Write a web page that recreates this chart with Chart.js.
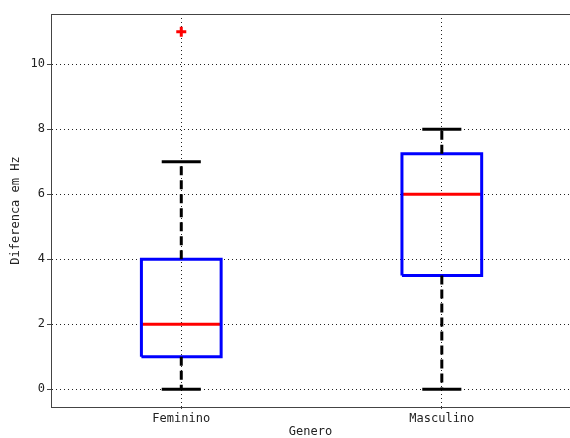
<!DOCTYPE html>
<html>
<head>
<meta charset="utf-8">
<script src="https://cdn.jsdelivr.net/npm/chart.js@4/dist/chart.umd.min.js"></script>
<style>
html,body{margin:0;padding:0;background:#fff;overflow:hidden;}
canvas{display:block;}
</style>
</head>
<body>
<canvas id="c" width="570" height="438"></canvas>
<script>
const categories = ['Feminino', 'Masculino'];
const whiskerLow = [0, 0];
const q1 = [1, 3.5];
const median = [2, 6];
const q3 = [4, 7.25];
const whiskerHigh = [7, 8];
const outliers = [[11], []];
const yTicks = [0, 2, 4, 6, 8, 10];

const BOX_HALF = 0.153;
const CAP_HALF = 0.075;
const BLUE = 'rgb(0,0,255)';
const RED = 'rgb(255,0,0)';
const BLACK = '#000';
const FONT = {family: 'DejaVu Sans Mono', size: 12};

const datasets = [];
categories.forEach((c, i) => {
  const x = i + 1;
  datasets.push({data: [{x: x, y: q1[i]}, {x: x, y: whiskerLow[i]}], borderColor: BLACK, borderWidth: 3, borderDash: [9, 5], borderCapStyle: 'butt'});
  datasets.push({data: [{x: x, y: q3[i]}, {x: x, y: whiskerHigh[i]}], borderColor: BLACK, borderWidth: 3, borderDash: [9, 5], borderCapStyle: 'butt'});
  datasets.push({data: [{x: x - CAP_HALF, y: whiskerLow[i]}, {x: x + CAP_HALF, y: whiskerLow[i]}], borderColor: BLACK, borderWidth: 3});
  datasets.push({data: [{x: x - CAP_HALF, y: whiskerHigh[i]}, {x: x + CAP_HALF, y: whiskerHigh[i]}], borderColor: BLACK, borderWidth: 3});
  datasets.push({data: [
    {x: x - BOX_HALF, y: q1[i]}, {x: x + BOX_HALF, y: q1[i]},
    {x: x + BOX_HALF, y: q3[i]}, {x: x - BOX_HALF, y: q3[i]},
    {x: x - BOX_HALF, y: q1[i]}
  ], borderColor: BLUE, borderWidth: 3, borderJoinStyle: 'miter'});
  datasets.push({data: [{x: x - BOX_HALF, y: median[i]}, {x: x + BOX_HALF, y: median[i]}], borderColor: RED, borderWidth: 3});
  if (outliers[i].length) {
    datasets.push({data: outliers[i].map(v => ({x: x, y: v})), showLine: false, pointStyle: 'cross', pointRadius: 5, borderColor: RED, borderWidth: 3, pointBorderColor: RED});
  }
});
datasets.forEach(d => {
  if (d.showLine === undefined) { d.showLine = true; d.pointRadius = 0; }
  d.fill = false;
  d.tension = 0;
});

new Chart(document.getElementById('c'), {
  type: 'scatter',
  data: {datasets: datasets},
  options: {
    responsive: false,
    maintainAspectRatio: false,
    animation: false,
    events: [],
    layout: {autoPadding: false, padding: 0},
    plugins: {legend: {display: false}, tooltip: {enabled: false}},
    scales: {
      x: {
        type: 'linear', position: 'bottom', min: 0.5, max: 2.492,
        afterBuildTicks: s => { s.ticks = categories.map((c, i) => ({value: i + 1})); },
        afterFit: s => { s.height = 31; s.paddingLeft = 0; s.paddingRight = 0; },
        ticks: {font: FONT, color: '#222', padding: 1, maxRotation: 0, autoSkip: false,
          callback: v => categories[Math.round(v) - 1] || ''},
        grid: {color: '#222', lineWidth: 1, tickLength: 4, tickColor: '#444', tickBorderDash: [1, 2]},
        border: {display: true, color: '#444', width: 1, dash: [1, 3]},
        title: {display: true, text: 'Genero', font: Object.assign({lineHeight: 1}, FONT), color: '#222', padding: {top: 0, bottom: 0}}
      },
      x2: {
        type: 'linear', position: 'top', min: 0.5, max: 2.492,
        afterBuildTicks: s => { s.ticks = []; },
        afterFit: s => { s.height = 14; s.paddingLeft = 0; s.paddingRight = 0; },
        ticks: {display: false},
        grid: {display: false, drawTicks: false},
        border: {display: true, color: '#444', width: 1}
      },
      y: {
        type: 'linear', min: -0.55, max: 11.55,
        afterBuildTicks: s => { s.ticks = yTicks.map(v => ({value: v})); },
        afterFit: s => { s.width = 51; s.paddingTop = 0; s.paddingBottom = 0; },
        ticks: {font: FONT, color: '#222', padding: 2},
        grid: {color: '#222', lineWidth: 1, tickLength: 4, tickColor: '#444', tickBorderDash: []},
        border: {display: true, color: '#444', width: 1, dash: [1, 3]},
        title: {display: true, text: 'Diferenca em Hz', font: FONT, color: '#222', padding: {top: 9, bottom: 0}}
      }
    }
  }
});
</script>
</body>
</html>
